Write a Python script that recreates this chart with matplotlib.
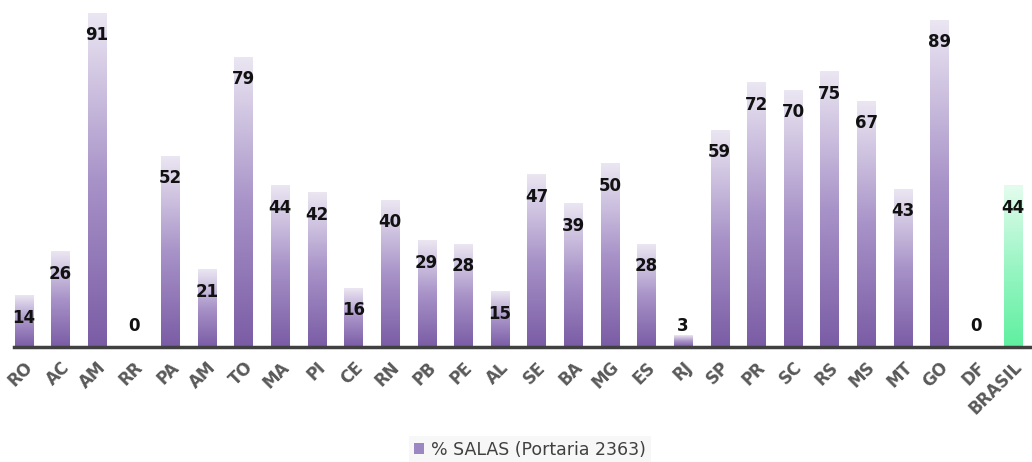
import matplotlib.pyplot as plt
import numpy as np
from matplotlib.colors import LinearSegmentedColormap
from matplotlib.patches import Patch

# dados
estados = ['RO', 'AC', 'AM', 'RR', 'PA', 'AM', 'TO', 'MA', 'PI', 'CE', 'RN', 'PB', 'PE', 'AL',
           'SE', 'BA', 'MG', 'ES', 'RJ', 'SP', 'PR', 'SC', 'RS', 'MS', 'MT', 'GO', 'DF', 'BRASIL']
salas = [14, 26, 91, 0, 52, 21, 79, 44, 42, 16, 40, 29, 28, 15,
         47, 39, 50, 28, 3, 59, 72, 70, 75, 67, 43, 89, 0, 44]

roxo = LinearSegmentedColormap.from_list('roxo', ['#7a5ca5', '#a893c8', '#ebe6f2'])
verde = LinearSegmentedColormap.from_list('verde', ['#5ff0a0', '#9af5c4', '#e4fcee'])

fig = plt.figure(figsize=(10.32, 4.62), dpi=100)
ax = fig.add_axes([14 / 1032, 1 - 347 / 462, 1017 / 1032, 334 / 462])

x = np.arange(len(estados))
largura = 0.5
grad = np.linspace(0, 1, 256).reshape(-1, 1)

for i, v in enumerate(salas):
    if v > 0:
        cmap = verde if estados[i] == 'BRASIL' else roxo
        ax.imshow(grad, cmap=cmap, origin='lower', aspect='auto',
                  extent=(x[i] - largura / 2, x[i] + largura / 2, 0, v), zorder=2)
    y_txt = max(v - 6, 5.7)
    ax.text(x[i], y_txt, str(v), ha='center', va='center', fontsize=12,
            fontweight='bold', color='#111111', zorder=3)

ax.set_xlim(-0.27, 27.5)
ax.set_ylim(0, 91)
ax.set_yticks([])
ax.set_xticks(x)
ax.set_xticklabels(estados, rotation=45, ha='right', rotation_mode='anchor',
                   fontsize=12, fontweight='bold', color='#595959')
ax.tick_params(axis='x', length=0, pad=8)
for s in ['top', 'right', 'left']:
    ax.spines[s].set_visible(False)
ax.spines['bottom'].set_color('#404040')
ax.spines['bottom'].set_linewidth(2.5)

leg = fig.legend(handles=[Patch(facecolor='#9c87c2', label='% SALAS (Portaria 2363)')],
                 loc='center', bbox_to_anchor=(530 / 1032, 1 - 450 / 462),
                 frameon=True, fontsize=12.5, handlelength=0.6, handleheight=0.6,
                 handletextpad=0.4, fancybox=False, borderpad=0.3)
leg.get_frame().set_facecolor('#f5f5f5')
leg.get_frame().set_edgecolor('none')
for t in leg.get_texts():
    t.set_color('#404040')

plt.savefig('out.png')
plt.close()
